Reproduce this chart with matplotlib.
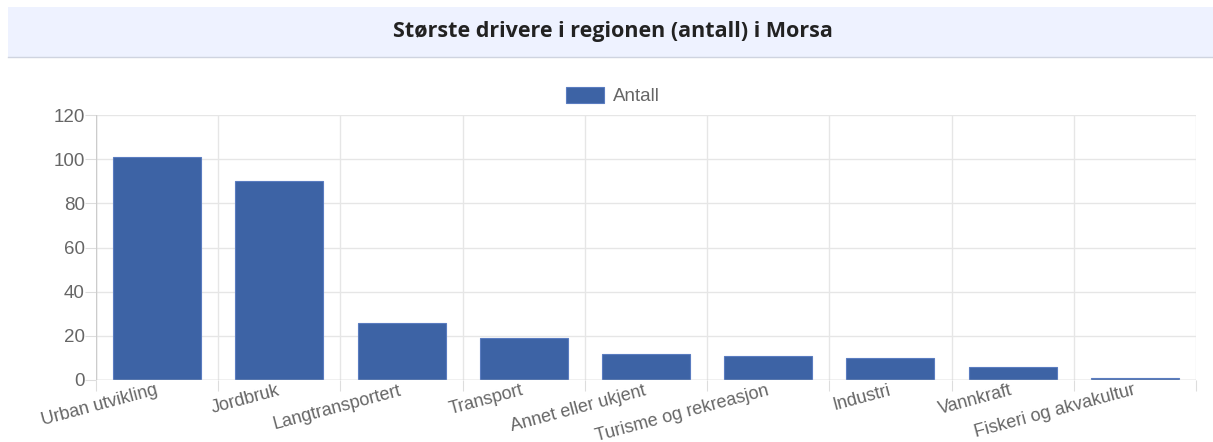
import matplotlib
matplotlib.use("Agg")
import matplotlib.pyplot as plt
from matplotlib.patches import Rectangle
import numpy as np

categories = ["Urban utvikling", "Jordbruk", "Langtransportert", "Transport",
              "Annet eller ukjent", "Turisme og rekreasjon", "Industri",
              "Vannkraft", "Fiskeri og akvakultur"]
values = [101, 90, 26, 19, 12, 11, 10, 6, 1]
yticks = [0, 20, 40, 60, 80, 100, 120]
series_name = "Antall"
title = "Største drivere i regionen (antall) i Morsa"

W, H = 1213, 442
fig = plt.figure(figsize=(W / 100, H / 100), dpi=100)

# title band
band = Rectangle((8 / W, 1 - 57 / H), 1 - 8 / W, 50 / H, transform=fig.transFigure,
                 facecolor="#eef2ff", edgecolor="none", zorder=0)
fig.patches.append(band)
fig.add_artist(plt.Line2D([8 / W, 1], [1 - 57 / H, 1 - 57 / H], transform=fig.transFigure,
                          color="#cfd4e0", lw=1))
fig.text(613 / W, 1 - 32 / H, title, ha="center", va="center",
         fontsize=15.5, fontweight="bold", color="#222222", family=["Open Sans", "DejaVu Sans"])

left, right, top, bottom = 96, 1196, 115, 380
ax = fig.add_axes([left / W, 1 - bottom / H, (right - left) / W, (bottom - top) / H])

x = np.arange(len(categories))
color = "#3d63a5"
ax.bar(x, values, width=0.72, color=color, edgecolor="#5a7cc0", linewidth=0.8,
       label=series_name, zorder=3)

ax.set_xlim(-0.5, len(categories) - 0.5)
ax.set_ylim(0, 120)
ax.set_yticks(yticks)
ax.set_yticklabels([str(v) for v in yticks], fontsize=13.5, color="#666666", family="Liberation Sans")
ax.tick_params(axis="y", length=8, color="#dddddd", pad=0)

# grid lines at category boundaries
for b in np.arange(-0.5, len(categories), 1.0):
    ax.axvline(b, color="#e6e6e6", lw=1, zorder=1)
for yv in yticks:
    ax.axhline(yv, color="#e6e6e6", lw=1, zorder=1)
ax.axhline(0, color="#cccccc", lw=1, zorder=4)
ax.axvline(-0.5, color="#cccccc", lw=1, zorder=4)

ax.set_xticks(np.arange(-0.5, len(categories), 1.0), minor=False)
ax.set_xticklabels([])
ax.tick_params(axis="x", length=8, color="#dddddd")
ax.set_xticks(x - 0.02, minor=True)
ax.set_xticklabels(categories, minor=True, rotation=15, ha="right", va="top",
                   rotation_mode="anchor",
                   fontsize=13.0, color="#666666", family="Liberation Sans")
ax.tick_params(axis="x", which="minor", length=0, pad=1.5)

for s in ax.spines.values():
    s.set_visible(False)

leg = fig.legend(loc="center", bbox_to_anchor=(613 / W, 1 - 96 / H), frameon=False,
                 handlelength=2.0, handleheight=1.0, handletextpad=0.48,
                 prop={"family": "Liberation Sans", "size": 13.5})
for t in leg.get_texts():
    t.set_color("#666666")

fig.savefig("out.png", dpi=100)
